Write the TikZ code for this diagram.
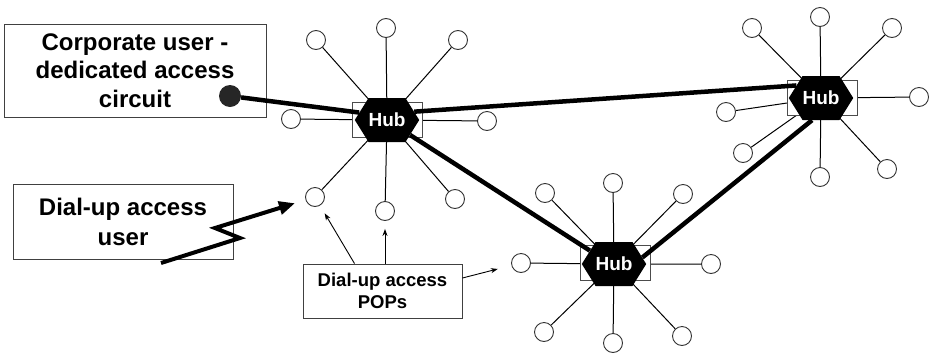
\documentclass[tikz,border=0pt]{standalone}
\usepackage{fontspec}
\setmainfont{Liberation Sans}
\usetikzlibrary{shapes.symbols,arrows.meta}

\begin{document}
\begin{tikzpicture}[x=1pt,y=-1pt,
    pop/.style={circle,draw=black!80,fill=white,line width=0.9pt,minimum size=19pt,inner sep=0pt},
    spoke/.style={line width=1pt},
    trunk/.style={line width=4.5pt},
    hubbox/.style={rectangle,draw=black!70,fill=white,line width=0.9pt,minimum width=70pt,minimum height=35pt,inner sep=0pt},
    hub/.style={signal,signal to=east and west,signal pointer angle=116,fill=black,text=white,minimum width=64pt,minimum height=44pt,inner sep=0pt,font=\fontsize{19}{19}\selectfont\bfseries},
    callout/.style={rectangle,draw=black!75,line width=0.9pt,align=center,inner sep=0pt},
    pointer/.style={-{Stealth[length=7pt,width=5pt]},line width=0.9pt}]
          \useasboundingbox (0,0) rectangle (937,354);
          % labels
          \node[callout,minimum width=262pt,minimum height=93pt,font=\fontsize{24}{28.5}\selectfont\bfseries] (corp) at (135,70.5) {Corporate user -\\dedicated access\\circuit};
          \node[callout,minimum width=220pt,minimum height=75pt,font=\fontsize{24}{30}\selectfont\bfseries] (dial) at (123,221.5) {Dial-up access\\user};
          \node[callout,minimum width=159pt,minimum height=54pt,font=\fontsize{18.5}{22}\selectfont\bfseries] (pops) at (382.5,291) {Dial-up access\\POPs};
          \node[circle,fill=black!85,minimum size=22pt,inner sep=0pt] (dot) at (230,96) {};
          % hub centres
          \coordinate (c1) at (387,120);
          \coordinate (c2) at (821,98);
          \coordinate (c3) at (614,264);
          % POPs round hub 1
          \node[pop] (p1a) at (386,28) {};   % top
          \node[pop] (p1b) at (316,40) {};   % top left
          \node[pop] (p1c) at (458,40) {};   % top right
          \node[pop] (p1d) at (291,119) {};  % left
          \node[pop] (p1e) at (487,121) {};  % right
          \node[pop] (p1f) at (315,197) {};  % bottom left
          \node[pop] (p1g) at (385,211) {};  % bottom
          \node[pop] (p1h) at (455,199) {};  % bottom right
          % POPs round hub 2
          \node[pop] (p2a) at (820,17) {};   % top
          \node[pop] (p2b) at (752,28) {};   % top left
          \node[pop] (p2c) at (892,28) {};   % top right
          \node[pop] (p2d) at (726,112) {};  % left
          \node[pop] (p2e) at (919,97) {};   % right
          \node[pop] (p2f) at (743,153) {};  % bottom left
          \node[pop] (p2g) at (820,177) {};  % bottom
          \node[pop] (p2h) at (887,169) {};  % bottom right
          % POPs round hub 3
          \node[pop] (p3a) at (613,183) {};  % top
          \node[pop] (p3b) at (545,193) {};  % top left
          \node[pop] (p3c) at (683,194) {};  % top right
          \node[pop] (p3d) at (521,263) {};  % left
          \node[pop] (p3e) at (711,264) {};  % right
          \node[pop] (p3f) at (544,332) {};  % bottom left
          \node[pop] (p3g) at (613,343) {};  % bottom
          \node[pop] (p3h) at (682,336) {};  % bottom right
          \draw[spoke] (c1) -- (p1a) (c1) -- (p1b) (c1) -- (p1c) (c1) -- (p1d)
                       (c1) -- (p1e) (c1) -- (p1f) (c1) -- (p1g) (c1) -- (p1h);
          \draw[spoke] (c2) -- (p2a) (c2) -- (p2b) (c2) -- (p2c) (c2) -- (p2d)
                       (c2) -- (p2e) (c2) -- (p2f) (c2) -- (p2g) (c2) -- (p2h);
          \draw[spoke] (c3) -- (p3a) (c3) -- (p3b) (c3) -- (p3c) (c3) -- (p3d)
                       (c3) -- (p3e) (c3) -- (p3f) (c3) -- (p3g) (c3) -- (p3h);
          % hubs
          \node[hubbox] (hb1) at (387,119.5) {};
          \node[hubbox] (hb2) at (822,97.5) {};
          \node[hubbox] (hb3) at (615,263) {};
          \node[hub] (h1) at (c1) {Hub};
          \node[hub] (h2) at (c2) {Hub};
          \node[hub] (h3) at (c3) {Hub};
          % backbone
          \draw[trunk] (dot) -- (h1.165);
          \draw[trunk] (h1.17) -- (h2.153);
          \draw[trunk] (h1.-33) -- (h3.151);
          \draw[trunk] (h3.13) -- (h2.248);
          % dial-up link
          \coordinate (z0) at (161,263);
          \coordinate (z1) at (240,238);
          \coordinate (z2) at (215,228);
          \draw[line width=4pt,line join=miter,shorten >=11pt,-{Triangle[length=16pt,width=13pt]}] (z0) -- (z1) -- (z2) -- (p1f);
          % pointers to the POPs
          \draw[pointer,shorten >=9pt] ([xshift=-28pt]pops.north) -- (p1f);
          \draw[pointer,shorten >=8pt] ([xshift=2.5pt]pops.north) -- (p1g);
          \draw[pointer,shorten >=14pt] ([yshift=13pt]pops.east) -- (p3d);
        \end{tikzpicture}
\end{document}
